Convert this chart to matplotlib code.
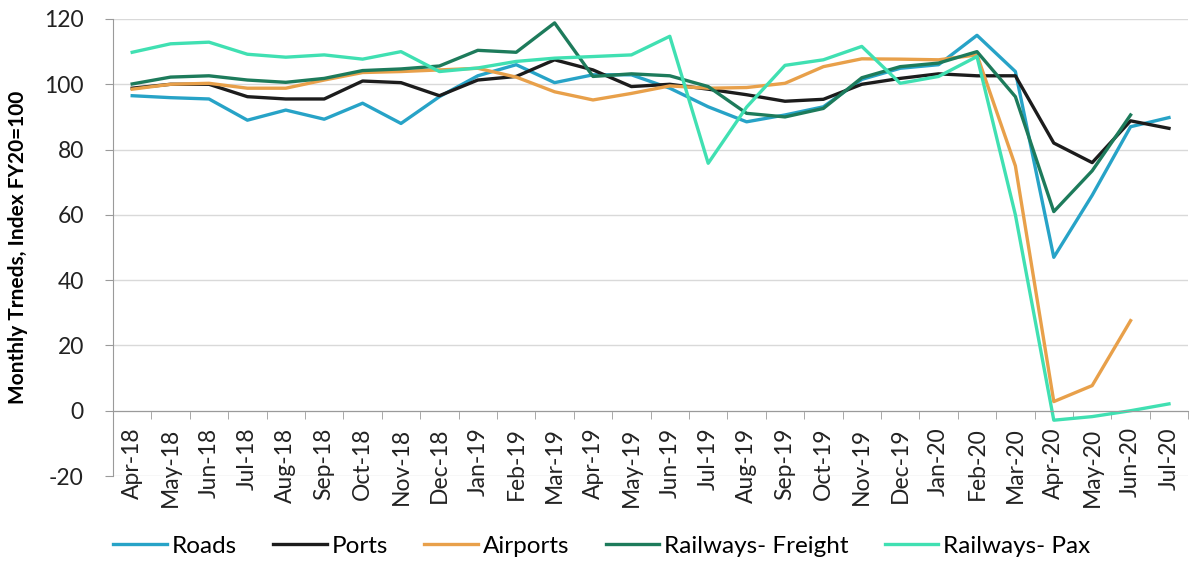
import matplotlib
matplotlib.use("Agg")
import matplotlib.pyplot as plt
import numpy as np

months = ["Apr-18", "May-18", "Jun-18", "Jul-18", "Aug-18", "Sep-18", "Oct-18", "Nov-18",
          "Dec-18", "Jan-19", "Feb-19", "Mar-19", "Apr-19", "May-19", "Jun-19", "Jul-19",
          "Aug-19", "Sep-19", "Oct-19", "Nov-19", "Dec-19", "Jan-20", "Feb-20", "Mar-20",
          "Apr-20", "May-20", "Jun-20", "Jul-20"]

roads = [96.5, 95.9, 95.5, 89.0, 92.1, 89.3, 94.2, 88.0, 96.2, 102.6, 106.0, 100.5, 102.9, 102.9,
         98.8, 93.1, 88.5, 90.6, 93.1, 101.5, 104.9, 106.0, 115.0, 103.9, 47.0, 66.0, 87.0, 89.8]
ports = [98.8, 100.0, 100.0, 96.2, 95.5, 95.5, 101.0, 100.5, 96.5, 101.3, 102.4, 107.5, 104.4,
         99.3, 100.0, 98.5, 96.8, 94.8, 95.4, 100.0, 101.8, 103.2, 102.6, 102.6, 82.0, 76.0, 88.8, 86.5]
airports = [98.5, 100.0, 100.3, 98.8, 98.8, 101.3, 103.6, 103.9, 104.4, 104.9, 102.2, 97.7, 95.2,
            97.2, 99.5, 98.8, 99.0, 100.3, 105.4, 107.8, 107.7, 107.5, 109.0, 75.0, 2.8, 7.7, 27.6]
freight = [100.1, 102.2, 102.6, 101.3, 100.6, 101.8, 104.2, 104.7, 105.6, 110.4, 109.8, 118.8,
           102.4, 103.2, 102.6, 99.3, 91.1, 90.0, 92.6, 102.0, 105.4, 106.5, 110.0, 96.2, 61.0, 73.5, 90.6]
pax = [109.8, 112.4, 112.9, 109.2, 108.3, 109.0, 107.7, 110.0, 103.9, 105.0, 107.0, 108.0, 108.5,
       109.0, 114.7, 75.8, 93.0, 105.8, 107.5, 111.6, 100.3, 102.4, 108.5, 60.0, -2.9, -1.8, 0.0, 2.1]

series = [
    ("Roads", roads, "#27a3c7"),
    ("Ports", ports, "#1c1c1c"),
    ("Airports", airports, "#e8a04a"),
    ("Railways- Freight", freight, "#1d7b5b"),
    ("Railways- Pax", pax, "#40e0b2"),
]

plt.rcParams['font.family'] = ['Lato', 'DejaVu Sans']
plt.rcParams['axes.unicode_minus'] = False

fig = plt.figure(figsize=(11.92, 5.72), dpi=100)
ax = fig.add_axes([0.0948, 0.1678, 0.902, 0.799])

for name, vals, col in series:
    ax.plot(np.arange(len(vals)), vals, color=col, lw=2.4, label=name)

n = len(months)
ax.set_xlim(-0.5, n - 0.5)
ax.set_ylim(-20, 120)
ax.set_yticks(np.arange(-20, 121, 20))
ax.yaxis.grid(True, color="#d9d9d9", lw=1)
ax.set_axisbelow(True)

for s in ["top", "right"]:
    ax.spines[s].set_visible(False)
ax.spines["left"].set_color("#9a9a9a")
ax.spines["bottom"].set_color("#9a9a9a")
ax.spines["bottom"].set_position(("data", 0))

ax.set_xticks(np.arange(n))
ax.set_xticklabels(months, rotation=90, fontsize=16.5, color="#222222")
ax.tick_params(axis="x", which="major", length=0, pad=12)
ax.set_xticks(np.arange(n + 1) - 0.5, minor=True)
ax.tick_params(axis="x", which="minor", length=6, color="#9a9a9a", direction="out")
ax.tick_params(axis="y", length=6, color="#9a9a9a", labelsize=16.5, labelcolor="#222222", pad=15)

ax.set_ylabel("Monthly Trneds, Index FY20=100", fontsize=15, fontweight="bold", labelpad=12)

fig.legend(loc="lower center", bbox_to_anchor=(0.505, -0.012), ncol=5, frameon=False,
           fontsize=17.5, handlelength=2.2, handletextpad=0.2, columnspacing=1.5)

fig.savefig("out.png", dpi=100)
